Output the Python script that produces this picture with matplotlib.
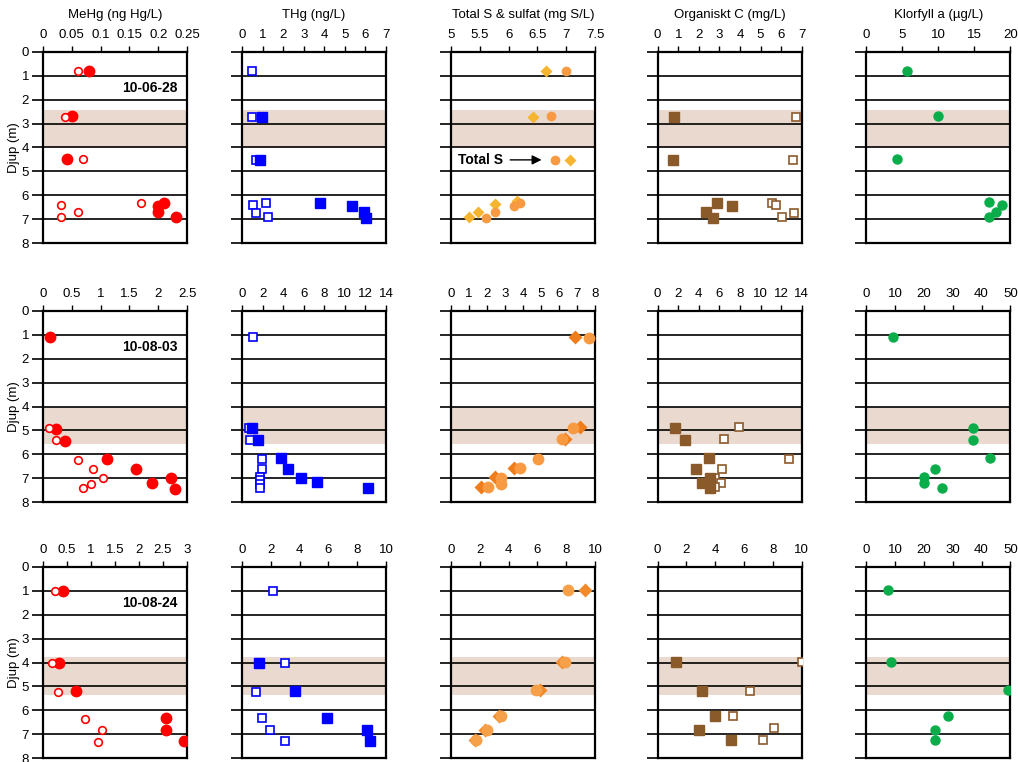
import matplotlib.pyplot as plt
import matplotlib.transforms as mtransforms

plt.rcParams['font.family'] = ['Liberation Sans', 'DejaVu Sans']
plt.rcParams['font.size'] = 9.5

dates = ['10-06-28', '10-08-03', '10-08-24']
titles = ['MeHg (ng Hg/L)', 'THg (ng/L)', 'Total S & sulfat (mg S/L)',
          'Organiskt C (mg/L)', 'Klorfyll a (\u00b5g/L)']
bands = [(2.45, 4.0), (4.0, 5.55), (3.75, 5.35)]

xticks = [
    [[0, 0.05, 0.1, 0.15, 0.2, 0.25], [0, 1, 2, 3, 4, 5, 6, 7],
     [5, 5.5, 6, 6.5, 7, 7.5], [0, 1, 2, 3, 4, 5, 6, 7], [0, 5, 10, 15, 20]],
    [[0, 0.5, 1, 1.5, 2, 2.5], [0, 2, 4, 6, 8, 10, 12, 14],
     [0, 1, 2, 3, 4, 5, 6, 7, 8], [0, 2, 4, 6, 8, 10, 12, 14], [0, 10, 20, 30, 40, 50]],
    [[0, 0.5, 1, 1.5, 2, 2.5, 3], [0, 2, 4, 6, 8, 10],
     [0, 2, 4, 6, 8, 10], [0, 2, 4, 6, 8, 10], [0, 10, 20, 30, 40, 50]],
]

# ---- 10-06-28 ----
mehg1_d = [0.80, 2.68, 4.50, 6.31, 6.43, 6.72, 6.93]
mehg1 = [0.080, 0.050, 0.041, 0.210, 0.200, 0.200, 0.231]
mehg1o_d = [0.81, 2.71, 4.50, 6.40, 6.34, 6.72, 6.91]
mehg1o = [0.060, 0.039, 0.069, 0.031, 0.171, 0.061, 0.031]

thg1_d = [2.71, 4.52, 6.31, 6.43, 6.70, 6.94]
thg1 = [0.98, 0.90, 3.79, 5.34, 5.91, 6.01]
thg1o_d = [0.81, 2.73, 4.52, 6.40, 6.31, 6.73, 6.90]
thg1o = [0.47, 0.47, 0.70, 0.54, 1.19, 0.67, 1.27]

sulf1_d = [0.79, 2.71, 4.51, 6.36, 6.26, 6.71, 6.90]
sulf1 = [6.65, 6.42, 7.07, 5.77, 6.15, 5.47, 5.32]
tots1_d = [0.81, 2.70, 4.52, 6.32, 6.44, 6.71, 6.96]
tots1 = [7.00, 6.74, 6.81, 6.20, 6.10, 5.77, 5.60]

toc1_d = [2.71, 4.52, 6.33, 6.44, 6.72, 6.95]
toc1 = [0.81, 0.73, 2.89, 3.60, 2.34, 2.69]
toc1o_d = [2.71, 4.52, 6.33, 6.41, 6.90, 6.73]
toc1o = [6.73, 6.60, 5.56, 5.76, 6.02, 6.65]

chl1_d = [0.79, 2.67, 4.48, 6.30, 6.41, 6.70, 6.92]
chl1 = [5.65, 9.95, 4.31, 17.0, 18.9, 18.0, 17.0]

# ---- 10-08-03 ----
mehg2_d = [1.10, 4.92, 5.44, 6.20, 6.62, 7.20, 7.01, 7.43]
mehg2 = [0.12, 0.23, 0.39, 1.11, 1.61, 1.89, 2.22, 2.29]
mehg2o_d = [4.90, 5.40, 6.23, 6.62, 7.01, 7.23, 7.41]
mehg2o = [0.11, 0.23, 0.61, 0.87, 1.05, 0.84, 0.70]

thg2_d = [4.89, 5.40, 6.17, 6.60, 6.99, 7.17, 7.40]
thg2 = [0.95, 1.57, 3.82, 4.44, 5.75, 7.32, 12.29]
thg2o_d = [1.10, 4.88, 5.38, 6.19, 6.60, 6.94, 7.08, 7.22, 7.39]
thg2o = [1.08, 0.65, 0.82, 1.90, 1.93, 1.76, 1.76, 1.76, 1.76]

sulf2_d = [1.09, 4.86, 5.36, 6.57, 6.94, 7.35]
sulf2 = [6.88, 7.18, 6.33, 3.50, 2.42, 1.64]
tots2_d = [1.12, 4.89, 5.37, 6.20, 6.59, 6.99, 7.22, 7.38]
tots2 = [7.68, 6.75, 6.18, 4.84, 3.81, 2.79, 2.79, 2.08]

toc2_d = [4.90, 5.39, 6.17, 6.60, 6.99, 7.18, 7.39]
toc2 = [1.69, 2.66, 4.99, 3.69, 5.09, 4.28, 5.12]
toc2o_d = [4.86, 5.37, 6.19, 6.60, 6.99, 7.21, 7.38]
toc2o = [7.91, 6.48, 12.77, 6.22, 5.57, 6.12, 5.57]

chl2_d = [1.10, 4.90, 5.39, 6.17, 6.60, 6.96, 7.19, 7.39]
chl2 = [9.1, 36.9, 36.9, 42.9, 24.0, 20.1, 20.1, 26.3]

# ---- 10-08-24 ----
mehg3_d = [0.99, 4.01, 5.20, 6.30, 6.80, 7.29]
mehg3 = [0.42, 0.33, 0.68, 2.56, 2.57, 2.94]
mehg3o_d = [0.99, 4.01, 5.23, 6.34, 6.83, 7.33]
mehg3o = [0.25, 0.19, 0.31, 0.88, 1.22, 1.14]

thg3_d = [4.01, 5.19, 6.31, 6.82, 7.30]
thg3 = [1.19, 3.69, 5.89, 8.71, 8.88]
thg3o_d = [0.99, 4.01, 5.22, 6.31, 6.82, 7.30]
thg3o = [2.17, 2.97, 0.96, 1.36, 1.92, 2.97]

sulf3_d = [0.96, 3.96, 5.13, 6.25, 6.80, 7.22]
sulf3 = [9.3, 7.7, 6.2, 3.3, 2.36, 1.67]
tots3_d = [0.96, 3.96, 5.13, 6.25, 6.80, 7.22]
tots3 = [8.1, 7.9, 5.9, 3.45, 2.5, 1.74]

toc3_d = [3.96, 5.17, 6.25, 6.80, 7.25]
toc3 = [1.3, 3.1, 4.0, 2.85, 5.07]
toc3o_d = [3.96, 5.17, 6.25, 6.75, 7.25]
toc3o = [10.0, 6.4, 5.2, 8.1, 7.3]

chl3_d = [0.96, 3.96, 5.13, 6.25, 6.80, 7.25]
chl3 = [7.6, 8.7, 49.3, 28.5, 24.0, 24.0]

rows = [
    dict(mehg=(mehg1_d, mehg1), mehgo=(mehg1o_d, mehg1o), thg=(thg1_d, thg1), thgo=(thg1o_d, thg1o),
         sulf=(sulf1_d, sulf1), tots=(tots1_d, tots1), toc=(toc1_d, toc1), toco=(toc1o_d, toc1o),
         chl=(chl1_d, chl1)),
    dict(mehg=(mehg2_d, mehg2), mehgo=(mehg2o_d, mehg2o), thg=(thg2_d, thg2), thgo=(thg2o_d, thg2o),
         sulf=(sulf2_d, sulf2), tots=(tots2_d, tots2), toc=(toc2_d, toc2), toco=(toc2o_d, toc2o),
         chl=(chl2_d, chl2)),
    dict(mehg=(mehg3_d, mehg3), mehgo=(mehg3o_d, mehg3o), thg=(thg3_d, thg3), thgo=(thg3o_d, thg3o),
         sulf=(sulf3_d, sulf3), tots=(tots3_d, tots3), toc=(toc3_d, toc3), toco=(toc3o_d, toc3o),
         chl=(chl3_d, chl3)),
]

red = '#ff0000'
blue = '#0000ff'
gold = ['#f6b530', '#f07d1c', '#f28a2a']
orange = ['#f79a42', '#f79a42', '#f7a04a']
brown = '#8b5a2b'
green = '#0aad4a'
band_col = '#ead9cf'

lefts = [0.0422, 0.2377, 0.443, 0.646, 0.851]
bottoms = [0.681, 0.341, 0.005]
w, h = 0.1415, 0.251

fig = plt.figure(figsize=(10.18, 7.62), dpi=100)

for r in range(3):
    d = rows[r]
    for c in range(5):
        ax = fig.add_axes([lefts[c], bottoms[r], w, h])
        ticks = xticks[r][c]
        ax.set_xlim(ticks[0], ticks[-1])
        ax.set_ylim(8, 0)
        ax.axhspan(bands[r][0], bands[r][1], color=band_col, zorder=0, lw=0)
        for k in range(1, 8):
            ax.axhline(k, color='black', lw=1.2, zorder=1)
        ax.xaxis.tick_top()
        ax.set_xticks(ticks)
        ax.set_xticklabels(['%g' % t for t in ticks])
        ax.set_yticks(range(9))
        ax.tick_params(axis='x', direction='out', length=4, width=1, pad=4)
        ax.tick_params(axis='y', direction='out', length=8, width=1.2, pad=2)
        for s in ax.spines.values():
            s.set_linewidth(1.6)
        if c == 0:
            ax.set_ylabel('Djup (m)', labelpad=1)
            tr = mtransforms.blended_transform_factory(ax.transAxes, ax.transData)
            ax.text(0.935, 1.5, dates[r], transform=tr, ha='right', va='center',
                    fontweight='bold', fontsize=10)
        else:
            ax.set_yticklabels([])
        if r == 0:
            ax.set_title(titles[c], fontsize=9.5, pad=24)

        if c == 0:
            ax.plot(d['mehg'][1], d['mehg'][0], 'o', color=red, ms=7.5, mec=red, zorder=3)
            ax.plot(d['mehgo'][1], d['mehgo'][0], 'o', mfc='white', mec=red, ms=5.5, mew=1.2, zorder=3)
        elif c == 1:
            ax.plot(d['thgo'][1], d['thgo'][0], 's', mfc='white', mec=blue, ms=5.5, mew=1.2, zorder=3)
            ax.plot(d['thg'][1], d['thg'][0], 's', color=blue, ms=7, zorder=3)
        elif c == 2:
            ms = 7 if r == 0 else 8.5
            ax.plot(d['sulf'][1], d['sulf'][0], 'D', color=gold[r], ms=ms - 1, mec='none', zorder=3)
            ax.plot(d['tots'][1], d['tots'][0], 'o', color=orange[r], ms=ms, mec='none', zorder=3)
        elif c == 3:
            ax.plot(d['toco'][1], d['toco'][0], 's', mfc='white', mec=brown, ms=5.5, mew=1.2, zorder=3)
            ax.plot(d['toc'][1], d['toc'][0], 's', color=brown, ms=7, zorder=3)
        else:
            ax.plot(d['chl'][1], d['chl'][0], 'o', color=green, ms=7.5, mec='none', zorder=3)

        if r == 0 and c == 2:
            ax.text(5.12, 4.52, 'Total S', fontweight='bold', fontsize=10, va='center')
            ax.annotate('', xy=(6.62, 4.52), xytext=(5.98, 4.52),
                        arrowprops=dict(arrowstyle='-|>', color='black', lw=1, mutation_scale=14))

fig.savefig('out.png', dpi=100)
